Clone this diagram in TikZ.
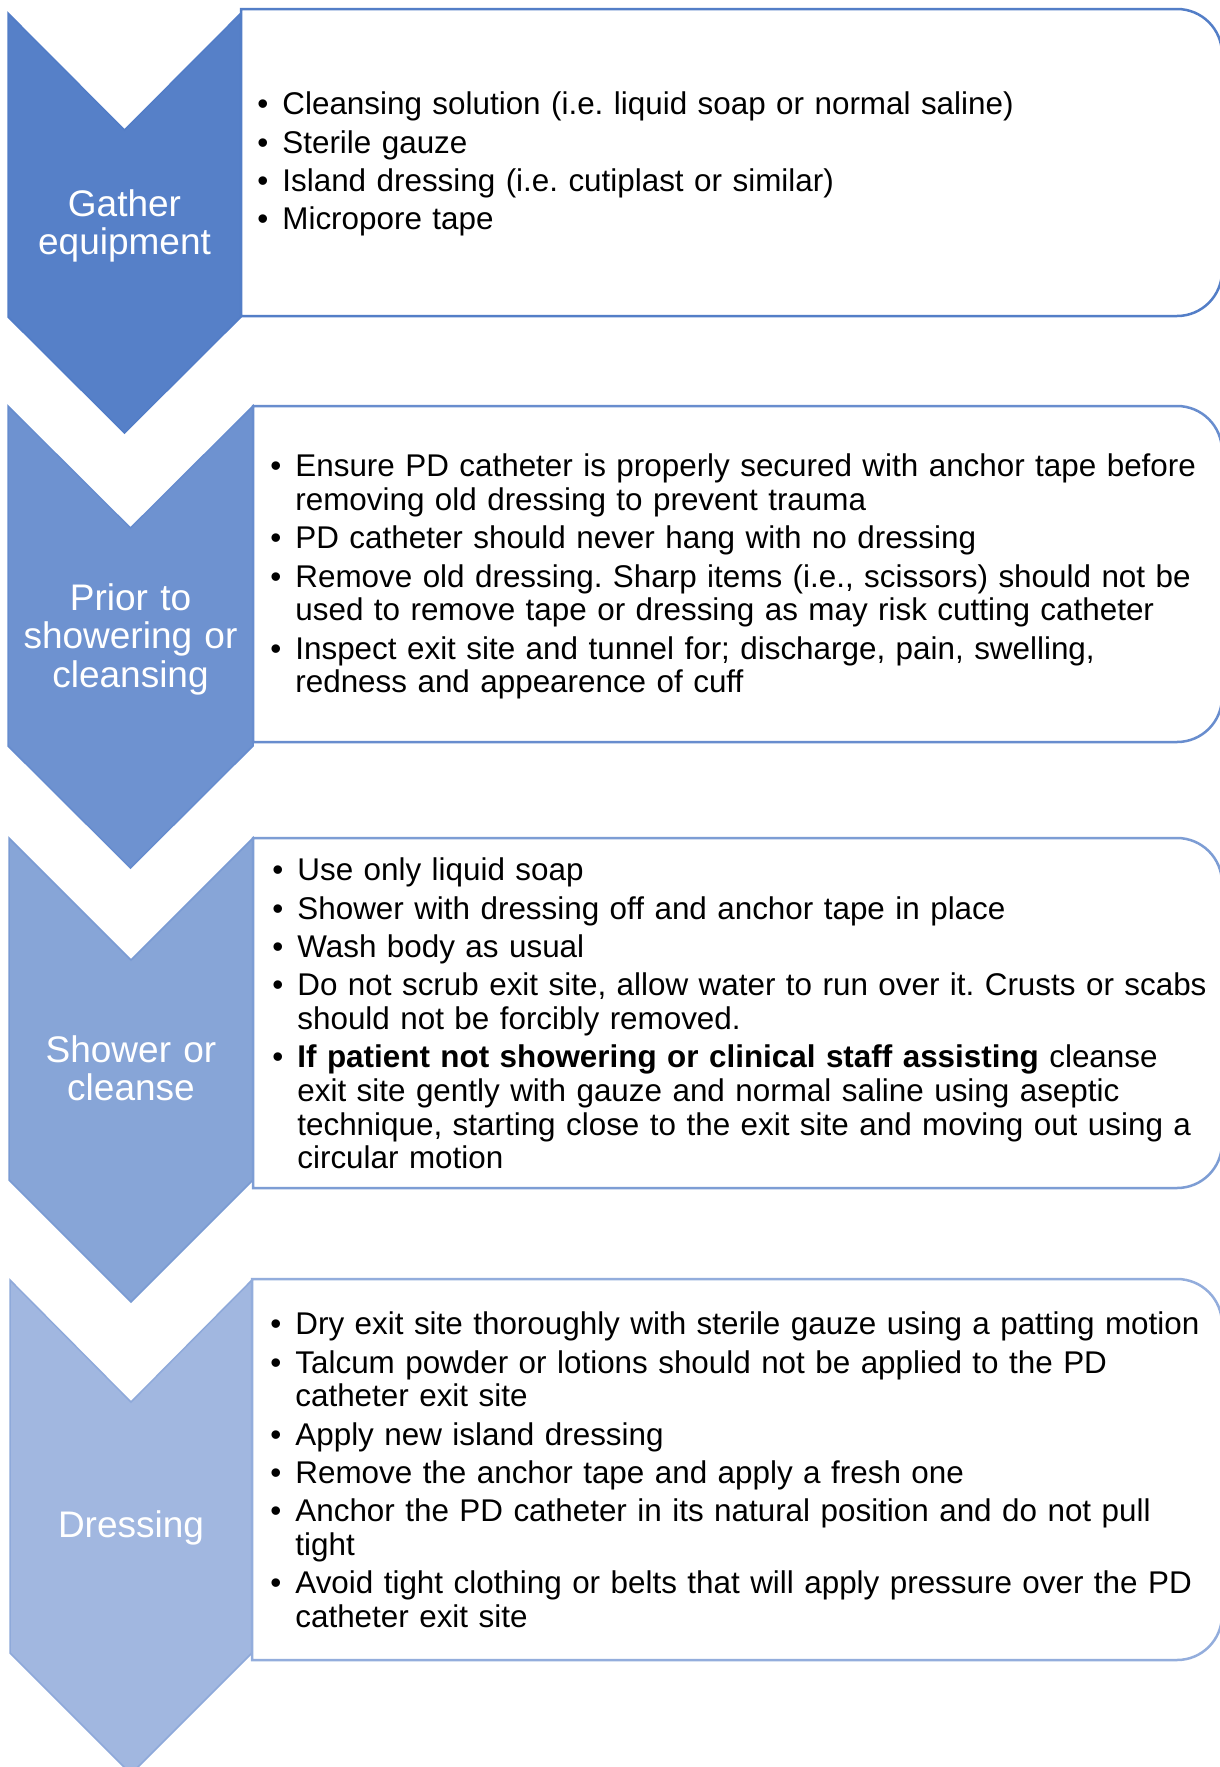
\documentclass[tikz,border=0pt]{standalone}
\usepackage{fontspec}
\setmainfont{Liberation Sans}
\frenchspacing

\definecolor{stepone}{HTML}{5680C8}
\definecolor{steptwo}{HTML}{6E92D0}
\definecolor{stepthree}{HTML}{87A5D7}
\definecolor{stepfour}{HTML}{A1B7E0}
\definecolor{edgeblue}{HTML}{4472C4}

% bullet list with the dot hanging in the margin
\newenvironment{dotlist}{%
  \begin{list}{\textbullet}{%
    \setlength{\leftmargin}{12.5pt}\setlength{\labelwidth}{12.5pt}%
    \setlength{\labelsep}{0pt}\setlength{\itemsep}{2.4pt}%
    \setlength{\parsep}{0pt}\setlength{\topsep}{0pt}\setlength{\partopsep}{0pt}%
    \renewcommand{\makelabel}[1]{##1\hfil}}}%
  {\end{list}}

\begin{document}
\begin{tikzpicture}[
    x=0.5pt, y=-0.5pt,
    chevron/.style={fill=#1, draw=#1!80!edgeblue, line width=0.75pt},
    stepbox/.style={fill=white, draw=#1!85!edgeblue, line width=1.25pt},
    steplabel/.style={text=white, font=\fontsize{18.5}{19.4}\selectfont, align=center,
      text width=120pt, inner sep=0pt, anchor=base},
    itemtext/.style={font=\fontsize{15.7}{16.8}\selectfont, align=left,
      text width=480pt, inner sep=0pt, anchor=base west}
]
\useasboundingbox (0,0) rectangle (1220,1767);
\fill[white] (0,0) rectangle (1220,1767);

% chevrons down the left side
\draw[chevron=stepone] (8,13) -- (124.5,130) -- (241,13) -- (241,317) -- (124.5,433) -- (8,317) -- cycle;
\draw[chevron=steptwo] (8,406) -- (130.5,528) -- (253,406) -- (253,746) -- (130.5,868) -- (8,746) -- cycle;
\draw[chevron=stepthree] (9,838) -- (131,960) -- (253,838) -- (253,1180) -- (131,1302) -- (9,1180) -- cycle;
\draw[chevron=stepfour] (10,1280) -- (131,1402) -- (252,1280) -- (252,1653) -- (131,1774) -- (10,1653) -- cycle;

% text panels, rounded on the right only
\draw[stepbox=stepone] (241,9) -- (1177,9) arc[start angle=90, end angle=0, radius=22.5pt]
  -- (1222,271) arc[start angle=0, end angle=-90, radius=22.5pt] -- (241,316) -- cycle;
\draw[stepbox=steptwo] (253,406) -- (1177,406) arc[start angle=90, end angle=0, radius=22.5pt]
  -- (1222,697) arc[start angle=0, end angle=-90, radius=22.5pt] -- (253,742) -- cycle;
\draw[stepbox=stepthree] (253,838) -- (1177,838) arc[start angle=90, end angle=0, radius=22.5pt]
  -- (1222,1143) arc[start angle=0, end angle=-90, radius=22.5pt] -- (253,1188) -- cycle;
\draw[stepbox=stepfour] (252,1279) -- (1177,1279) arc[start angle=90, end angle=0, radius=22.5pt]
  -- (1222,1615) arc[start angle=0, end angle=-90, radius=22.5pt] -- (252,1660) -- cycle;

% step names
\node[steplabel] (gather) at (124.5,216) {Gather\\equipment};
\node[steplabel] (prior) at (130.5,610) {Prior to\\showering or\\cleansing};
\node[steplabel] (shower) at (131,1062) {Shower or\\cleanse};
\node[steplabel] (dressing) at (131,1537) {Dressing};

% what to do at each step
\node[itemtext] (gatheritems) at (257,81) {\begin{dotlist}
  \item Cleansing solution (i.e. liquid soap or normal saline)
  \item Sterile gauze
  \item Island dressing (i.e. cutiplast or similar)
  \item Micropore tape
\end{dotlist}};
\node[itemtext] (prioritems) at (270,443) {\begin{dotlist}
  \item Ensure PD catheter is properly secured with anchor tape before\\removing old dressing to prevent trauma
  \item PD catheter should never hang with no dressing
  \item Remove old dressing. Sharp items (i.e., scissors) should not be\\used to remove tape or dressing as may risk cutting catheter
  \item Inspect exit site and tunnel for; discharge, pain, swelling,\\redness and appearence of cuff
\end{dotlist}};
\node[itemtext] (showeritems) at (272,847) {\begin{dotlist}
  \item Use only liquid soap
  \item Shower with dressing off and anchor tape in place
  \item Wash body as usual
  \item Do not scrub exit site, allow water to run over it. Crusts or scabs\\should not be forcibly removed.
  \item \textbf{If patient not showering or clinical staff assisting} cleanse\\exit site gently with gauze and normal saline using aseptic\\technique, starting close to the exit site and moving out using a\\circular motion
\end{dotlist}};
\node[itemtext] (dressingitems) at (270,1301) {\begin{dotlist}
  \item Dry exit site thoroughly with sterile gauze using a patting motion
  \item Talcum powder or lotions should not be applied to the PD\\catheter exit site
  \item Apply new island dressing
  \item Remove the anchor tape and apply a fresh one
  \item Anchor the PD catheter in its natural position and do not pull\\tight
  \item Avoid tight clothing or belts that will apply pressure over the PD\\catheter exit site
\end{dotlist}};
\end{tikzpicture}
\end{document}
